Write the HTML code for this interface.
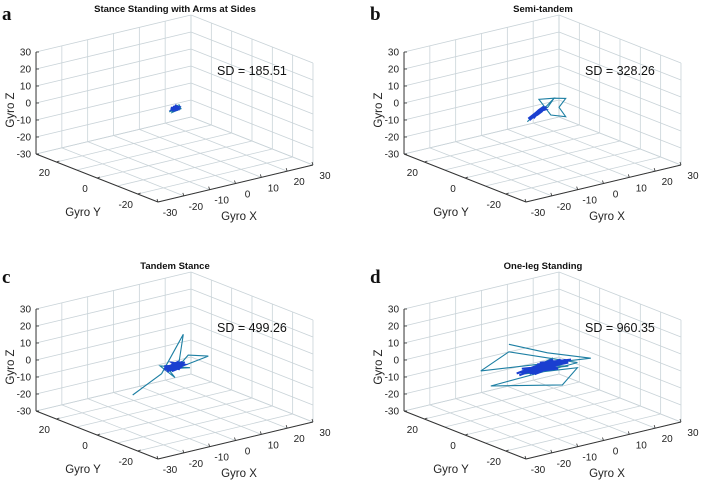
<!DOCTYPE html>
<html><head><meta charset="utf-8"><style>
body{margin:0;background:#fff;}
svg{display:block;font-family:"Liberation Sans",Arial,sans-serif;}
</style></head><body>
<svg id="fig" width="708" height="482" viewBox="0 0 708 482"></svg>
<script>
// ---- data (Gyro X, Gyro Y, Gyro Z) ----
const ticks = [-30,-20,-10,0,10,20,30];
const tickLabelsXY = ["-30","-20","-10","0","10","20","30"];
const panelTitles = ["Stance Standing with Arms at Sides","Semi-tandem","Tandem Stance","One-leg Standing"];
const panelLetters = ["a","b","c","d"];
const sdValues = ["185.51","328.26","499.26","960.35"];
// outer excursion paths
const pathAx = [-1.5,1.8,2.5,-1,0.5,2,-2,1];
const pathAy = [0,0,0,0,0,0,0,0];
const pathAz = [0.5,1.5,-1,-2,1.8,-0.5,-1.2,0.8];
const pathBx = [-5.9,-2,2,4.5,9,6.4,9,3.2,-1.4,4.5,0,-3];
const pathBy = [0,0,0,0,0,0,0,0,0,0,0,0];
const pathBz = [-5.6,-2,0,4.4,2.7,-1.6,-8.1,-5,5.9,4.4,-1,-3];
const pathCx = [-16.2,-5,3.4,1.5,5.3,13.1,1,6,-5.6,0.2,-1.7,2];
const pathCy = [0,0,0,0,0,0,0,0,0,0,0,0];
const pathCz = [-11.5,-3,17.1,-1,4.2,0.8,-2,-3.5,1.8,-7.2,-2.8,-1];
const pathDx = [-13,1.9,18.7,-23.9,-13,13.5,-20,7.7,13.5,-8.4,4,-5,10,0];
const pathDy = [0,0,0,0,0,0,0,0,0,0,0,0,0,0];
const pathDz = [17.2,6.8,-2.5,5.5,12.8,-3.2,-4.8,-14.2,-6.2,-2.1,3,-1,-4,0];
// dense core
const coreAx = [-1,1,0.5,-0.8,1.5,-1.2,0.3,1,-0.5,1.3,-1.4,0.6,-0.2,1.1,-1,0.8,-0.6,1.4];
const coreAz = [0.5,-0.5,1,-1,0.2,0,-0.8,0.9,-0.3,-1,0.7,0,1.2,-0.2,-0.6,0.4,1,-0.9];
const coreBx = [-5,-3,-1,1,-2,0,-4,-1,1.5,-3,0,-2,-4.5,-1.5,0.5,-3.5,-0.5,1,-2.5,-5.5];
const coreBz = [-5,-3,-1,0,-2,-0.5,-4,-2,0.5,-2.5,-1.5,-3,-3.5,-0.5,1,-4.5,0,-1,-1.5,-4];
const coreCx = [-4,3,-2,4,-3,2,-1,3,-4,1,0,2,-3,4,-1,2,-2,3,0,-4];
const coreCz = [1,-1,-2,0.5,-1.5,1,-3,-2,-0.5,1.5,-1,0,-2.5,-1,2,-3,0.5,1,-1.5,-1];
const coreDx = [-8,6,-5,9,-10,4,-3,8,-7,5,-2,10,-6,3,-9,7,-4,11,-1,6,-8,2];
const coreDz = [1,-2,-3,0,-1,2,-4,-1,0.5,-3,1.5,-2,-1,0,-2.5,1,-3.5,-0.5,2,-4,-1.5,0.5];

const paths = [[pathAx,pathAy,pathAz],[pathBx,pathBy,pathBz],[pathCx,pathCy,pathCz],[pathDx,pathDy,pathDz]];
const cores = [[coreAx,coreAz],[coreBx,coreBz],[coreCx,coreCz],[coreDx,coreDz]];
const offsets = [[0,0],[368,0],[0,257],[368,257]];

const NS="http://www.w3.org/2000/svg";
const svg=document.getElementById('fig');
function mk(tag,attrs,parent){const e=document.createElementNS(NS,tag);for(const k in attrs)e.setAttribute(k,attrs[k]);parent.appendChild(e);return e;}

offsets.forEach((off,p)=>{
  const g=mk('g',{transform:`translate(${off[0]},${off[1]})`},svg);
  
  
  const cx=174.5, cy=108.5;
  const P=(x,y,z)=>[cx+2.583*x-2.033*y, cy-0.617*x-0.8*y-1.7*z];
  const line=(a,b,stroke,w,name)=>{const l=mk('line',{x1:a[0],y1:a[1],x2:b[0],y2:b[1],stroke:stroke,'stroke-width':w},g);
    
    return l;};
  const grid='#c9d3d8';
  ticks.forEach(t=>{
    line(P(t,30,-30),P(t,30,30),grid,0.8,'grid-line');
    line(P(-30,30,t),P(30,30,t),grid,0.8,'grid-line');
    line(P(30,t,-30),P(30,t,30),grid,0.8,'grid-line');
    line(P(30,-30,t),P(30,30,t),grid,0.8,'grid-line');
    line(P(t,-30,-30),P(t,30,-30),grid,0.8,'grid-line');
    line(P(-30,t,-30),P(30,t,-30),grid,0.8,'grid-line');
  });
  line(P(-30,30,-30),P(-30,30,30),'#333',1,'z-axis');
  line(P(-30,30,-30),P(-30,-30,-30),'#333',1,'y-axis');
  line(P(-30,-30,-30),P(30,-30,-30),'#333',1,'x-axis');
  const txt=(x,y,s,attrs,name)=>{const t=mk('text',Object.assign({x:x,y:y},attrs),g);t.textContent=s;
    
    return t;};
  ticks.forEach((t,i)=>{
    const zp=P(-30,30,t);
    line(zp,[zp[0]+3,zp[1]],'#333',0.8,'z-tick');
    txt(zp[0]-5,zp[1]+3.5,tickLabelsXY[i],{'font-size':10,'text-anchor':'end',fill:'#222'},'z-tick-label');
    const xp=P(t,-30,-30);
    line(xp,[xp[0]-1,xp[1]-3],'#333',0.8,'x-tick');
    txt(xp[0]+12,xp[1]+14,tickLabelsXY[i],{'font-size':10,'text-anchor':'middle',fill:'#222'},'x-tick-label');
  });
  [-20,0,20].forEach(t=>{
    const yp=P(-30,t,-30);
    line(yp,[yp[0]+3,yp[1]-1],'#333',0.8,'y-tick');
    txt(yp[0]-12,yp[1]+14,String(t),{'font-size':10,'text-anchor':'middle',fill:'#222'},'y-tick-label');
  });
  txt(14,110,'Gyro Z',{'font-size':11.5,'text-anchor':'middle',fill:'#222',transform:'rotate(-90 14 110)'},'z-axis-title');
  txt(83,216,'Gyro Y',{'font-size':11.5,'text-anchor':'middle',fill:'#222'},'y-axis-title');
  txt(239,220,'Gyro X',{'font-size':11.5,'text-anchor':'middle',fill:'#222'},'x-axis-title');
  txt(175,12,panelTitles[p],{'font-size':9.5,'font-weight':'bold','text-anchor':'middle',fill:'#111'},'panel-title');
  txt(2,p<2?20:26,panelLetters[p],{'font-size':19,'font-weight':'bold','font-family':'"Liberation Serif",serif',fill:'#111'},'panel-letter');
  txt(217,75,'SD = '+sdValues[p],{'font-size':12.5,fill:'#111'},'sd-annotation');
  const [px,py,pz]=paths[p];
  let d='';px.forEach((v,i)=>{const q=P(v,py[i],pz[i]);d+=(i?'L':'M')+q[0].toFixed(1)+' '+q[1].toFixed(1);});
  const pth=mk('path',{d:d,fill:'none',stroke:'#1d7fa3','stroke-width':1.1},g);
  
  
  const [kx,kz]=cores[p];
  let d2='';kx.forEach((v,i)=>{const q=P(v,0,kz[i]);d2+=(i?'L':'M')+q[0].toFixed(1)+' '+q[1].toFixed(1);});
  const core=mk('path',{d:d2,fill:'none',stroke:'#1a3fd0','stroke-width':p===0?3:2},g);
  
  
});
</script>
</body></html>
